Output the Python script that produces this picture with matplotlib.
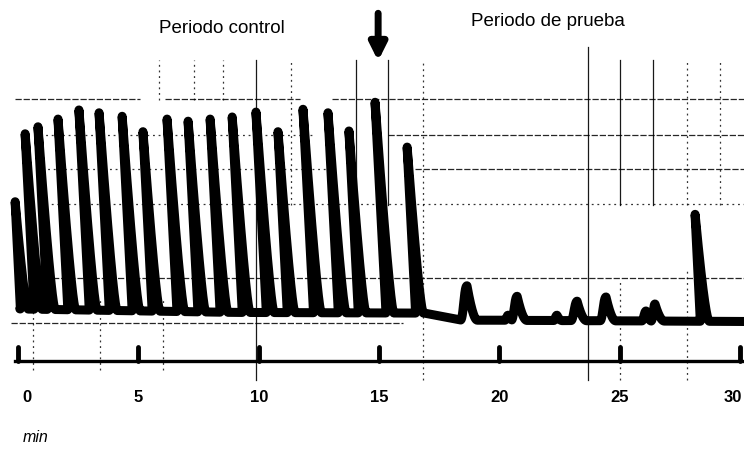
import matplotlib
matplotlib.use("Agg")
import matplotlib.pyplot as plt
import numpy as np

# Contraction record: time in min, pen deflection in mm above the resting line
# Control period (spontaneous contractions)
control_t = [0.15, 0.72, 1.27, 2.12, 3.01, 3.84, 4.79, 5.62, 6.65, 7.52, 8.44,
             9.36, 10.36, 11.23, 12.32, 13.35, 14.18, 15.33, 16.56]
control_h = [16.9, 26.6, 27.6, 28.7, 30.0, 29.6, 29.1, 26.9, 28.7, 28.4, 28.7,
             29.0, 29.7, 26.9, 30.1, 29.6, 27.0, 31.1, 24.7]

# Test period (after the drug, arrow at 15 min)
test_t = [18.73, 20.37, 20.79, 22.40, 23.27, 24.48, 26.11, 26.50, 28.37]
test_h = [4.9, 0.7, 3.4, 0.7, 2.7, 3.3, 1.3, 2.3, 15.1]
test_rise = [0.35, 0.15, 0.3, 0.15, 0.3, 0.3, 0.2, 0.2, 0.03]
test_fall = [0.35, 0.2, 0.35, 0.2, 0.35, 0.35, 0.2, 0.35, 0.35]

# resting tone of the muscle
tone_t = [0.0, 9.0, 16.9, 18.4, 30.5]
tone_v = [1.6, 1.1, 1.0, 0.0, -0.2]

marker_min = [0, 5, 10, 15, 20, 25, 30]
marker_labels = ["0", "5", "10", "15", "20", "25", "30"]

# chart paper lines: (level, start, end)
hgrid_dash = [(31.6, -0.12, 5.07), (31.6, 6.11, 11.72), (31.6, 13.05, 30.2),
              (26.4, 15.37, 30.2), (21.6, 16.49, 30.2), (6.0, 0.1, 30.2),
              (-0.4, -0.3, 16.0)]
hgrid_dot = [(26.4, 0.9, 12.3), (21.6, 1.0, 13.0), (16.6, 0.9, 30.2)]
vgrid_solid = [(9.89, -8.6, 37.1), (14.04, 10.7, 37.1), (15.37, 16.4, 37.1),
               (23.68, -8.6, 39.0), (25.01, 16.4, 37.1), (26.38, 16.4, 37.1)]
vgrid_dot = [(11.34, 16.4, 37.1), (16.83, -8.6, 37.1), (25.01, -8.6, 5.7),
             (27.79, 16.4, 37.1), (27.79, -8.6, 7.1), (29.16, 16.4, 37.1),
             (0.62, -7.1, 2.9), (3.41, -7.1, 2.9), (6.02, -7.1, 2.9),
             (5.86, 31.4, 37.1), (7.31, 31.4, 37.1), (8.52, 31.4, 37.1)]

MARK_LEVEL = -5.9
PEN_SKEW = 0.016    # pen arm swings back as it deflects, min per mm


def pulse(s, rise, fall):
    out = np.zeros_like(s)
    up = (s >= -rise) & (s < 0)
    out[up] = 0.5 * (1 - np.cos(np.pi * (s[up] + rise) / rise))
    down = (s >= 0) & (s <= fall)
    out[down] = (1 - s[down] / fall) ** 2
    return out


t = np.arange(0.1, 30.5, 0.002)
tone = np.interp(t, tone_t, tone_v)
deflect = np.zeros_like(t)
peaks = [(tp, h, 0.03, 0.3) for tp, h in zip(control_t, control_h)]
peaks += list(zip(test_t, test_h, test_rise, test_fall))
for tp, h, r, f in peaks:
    amp = h - np.interp(tp, tone_t, tone_v)
    deflect = np.maximum(deflect, amp * pulse(t - tp, r, f))
y = tone + deflect
x = t - PEN_SKEW * y

fig = plt.figure(figsize=(7.44, 4.49), dpi=100)
ax = fig.add_axes([0, 0, 1, 1])
ax.set_xlim(-0.75, 30.16)
ax.set_ylim(-18.4, 45.7)
ax.axis("off")

for lev, a, b in hgrid_dash:
    ax.plot([a, b], [lev, lev], color="k", lw=0.9, dashes=(5, 1.5), alpha=0.85)
for lev, a, b in hgrid_dot:
    ax.plot([a, b], [lev, lev], color="k", lw=0.9, dashes=(1.5, 3), alpha=0.8)
for pos, a, b in vgrid_solid:
    ax.plot([pos, pos], [a, b], color="k", lw=0.9, alpha=0.9)
for pos, a, b in vgrid_dot:
    ax.plot([pos, pos], [a, b], color="k", lw=0.9, dashes=(1.5, 3), alpha=0.8)

# the recording itself
ax.plot(x, y, color="k", lw=6.5, solid_capstyle="round", solid_joinstyle="round")

# time marker line with a blip every 5 min
ax.plot([-0.12, 30.2], [MARK_LEVEL, MARK_LEVEL], color="k", lw=2.4)
for m in marker_min:
    ax.plot([m, m], [MARK_LEVEL, MARK_LEVEL + 2.0], color="k", lw=3.5,
            solid_capstyle="round")

num_font = dict(family=["Liberation Sans Narrow", "Liberation Sans"],
                fontweight="bold", fontsize=12)
for m, lab in zip(marker_min, marker_labels):
    shift = {0: 0.35, 30: -0.3}.get(m, 0)
    ax.text(m + shift, -11.0, lab, ha="center", va="center", **num_font)
ax.text(0.2, -16.7, "min", ha="left", va="center", style="italic",
        family=["Liberation Sans"], fontsize=11.5)

head_font = dict(family=["Liberation Sans Narrow", "Liberation Sans"],
                 fontsize=13.5)
ax.text(8.47, 41.6, "Periodo control", ha="center", va="center", **head_font)
ax.text(22.0, 42.6, "Periodo de prueba", ha="center", va="center", **head_font)

ax.annotate("", xy=(14.96, 36.6), xytext=(14.96, 44.2),
            arrowprops=dict(arrowstyle="-|>,head_length=1.0,head_width=0.5",
                            lw=5, color="k"))

fig.savefig("out.png", dpi=100)
